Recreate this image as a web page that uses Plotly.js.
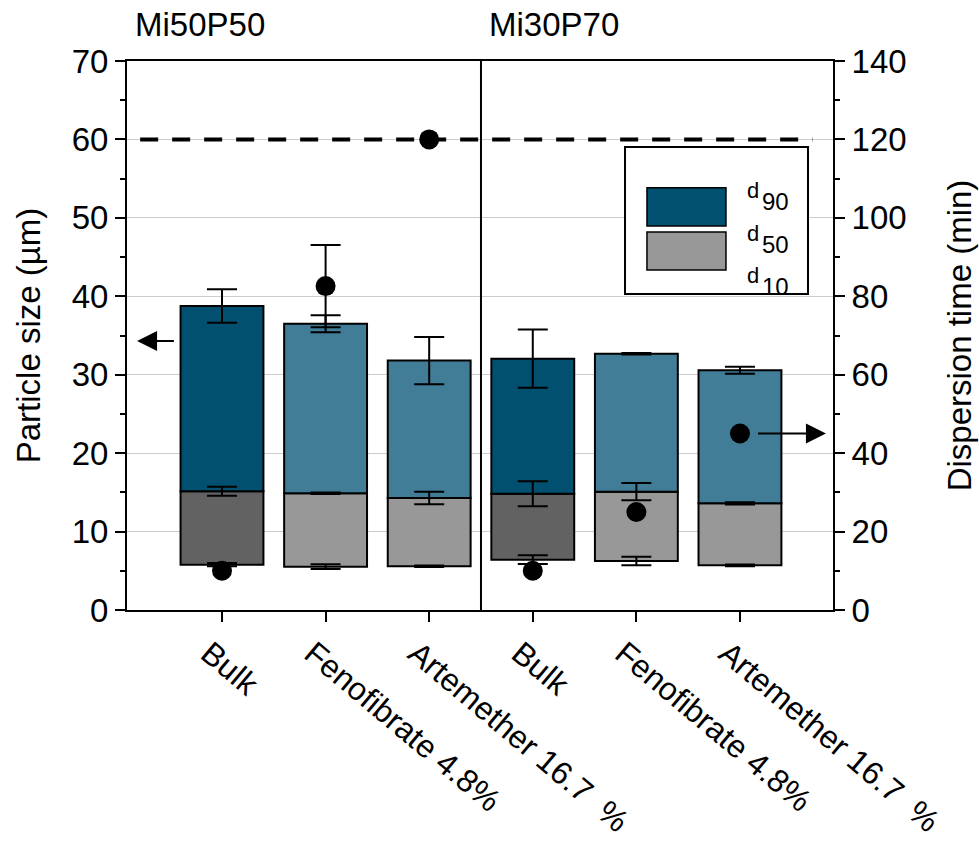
<!DOCTYPE html>
<html>
<head>
<meta charset="utf-8">
<script src="https://cdn.plot.ly/plotly-3.0.1.min.js"></script>
<style>html,body{margin:0;padding:0;background:#fff;}#chart{width:979px;height:845px;}</style>
</head>
<body>
<div id="chart"></div>
<script>
// ---- data ----
const xPos = [0, 1, 2, 3, 4, 5];
const tickLabels = ['Bulk', 'Fenofibrate 4.8%', 'Artemether 16.7\u00a0\u00a0%', 'Bulk', 'Fenofibrate 4.8%', 'Artemether 16.7\u00a0\u00a0%'];
const groups = ['Mi50P50', 'Mi30P70'];
const isBulk = [true, false, false, true, false, false];
const d10 = [5.78, 5.53, 5.57, 6.42, 6.25, 5.69];
const d10Err = [0.2, 0.3, 0.1, 0.55, 0.55, 0.1];
const d50 = [15.13, 14.88, 14.28, 14.83, 15.09, 13.6];
const d50Err = [0.57, 0.1, 0.8, 1.6, 1.1, 0.15];
const d90 = [38.76, 36.5, 31.8, 32.05, 32.68, 30.56];
const d90Err = [2.15, 1.07, 3.0, 3.7, 0.1, 0.45];
const dispTime = [10, 82.6, 120, 10, 25, 45];
const dispErr = [NaN, 10.5, NaN, NaN, NaN, NaN];
const maxTime = 120;
const legendNames = ['90', '50', '10'];

// ---- styles ----
const FONT = 'Liberation Sans, Arial, sans-serif';
const FS = 33;
const blueDark = '#02506F', blueLight = '#417D97';
const greyDark = '#626262', greyLight = '#989898';

const lowColors = isBulk.map(b => b ? greyDark : greyLight);
const highColors = isBulk.map(b => b ? blueDark : blueLight);

function errTrace(y, err) {
  return {
    type: 'scatter', mode: 'markers', x: xPos, y: y,
    marker: {size: 1, color: 'rgba(0,0,0,0)'},
    error_y: {type: 'data', array: err, visible: true, color: '#000', thickness: 2, width: 15},
    hoverinfo: 'skip', showlegend: false
  };
}

const traces = [
  {type: 'bar', x: xPos, base: d10, y: d50.map((v, i) => v - d10[i]), width: 0.8,
   marker: {color: lowColors, line: {color: '#000', width: 2}}, showlegend: false},
  {type: 'bar', x: xPos, base: d50, y: d90.map((v, i) => v - d50[i]), width: 0.8,
   marker: {color: highColors, line: {color: '#000', width: 2}}, showlegend: false},
  errTrace(d10, d10Err),
  errTrace(d50, d50Err),
  errTrace(d90, d90Err),
  {type: 'scatter', mode: 'markers', x: xPos, y: dispTime, yaxis: 'y2',
   marker: {size: 20, color: '#000'},
   error_y: {type: 'data', array: dispErr, visible: true, color: '#000', thickness: 2, width: 15},
   showlegend: false}
];

const shapes = [
  {type: 'line', xref: 'x', yref: 'y2', x0: -0.79, x1: 5.7, y0: maxTime, y1: maxTime,
   line: {color: '#000', width: 4, dash: '18px,14px'}},
  {type: 'line', xref: 'x', yref: 'y', x0: 2.5, x1: 2.5, y0: 0, y1: 70, line: {color: '#000', width: 2}},
  {type: 'rect', xref: 'paper', yref: 'paper', x0: 0.7054, x1: 0.9646, y0: 0.5756, y1: 0.8434,
   fillcolor: '#fff', line: {color: '#000', width: 2}},
  {type: 'rect', xref: 'paper', yref: 'paper', x0: 0.7365, x1: 0.8484, y0: 0.6995, y1: 0.7692,
   fillcolor: blueDark, line: {color: '#000', width: 1.5}},
  {type: 'rect', xref: 'paper', yref: 'paper', x0: 0.7365, x1: 0.8484, y0: 0.6193, y1: 0.6885,
   fillcolor: greyLight, line: {color: '#000', width: 1.5}}
];

const dFont = {family: FONT, size: 22, color: '#000'};
const subFont = {family: FONT, size: 24, color: '#000'};
const dY = [0.765, 0.6867, 0.6102];
const subY = [0.744, 0.6665, 0.59];
const annotations = [
  {xref: 'paper', yref: 'paper', x: 0.0085, y: 1.0656, xanchor: 'left', yanchor: 'middle',
   text: groups[0], showarrow: false, font: {family: FONT, size: FS, color: '#000'}},
  {xref: 'paper', yref: 'paper', x: 0.51, y: 1.0656, xanchor: 'left', yanchor: 'middle',
   text: groups[1], showarrow: false, font: {family: FONT, size: FS, color: '#000'}},
  {xref: 'x', yref: 'y', x: -0.82, y: 34.3, axref: 'x', ayref: 'y', ax: -0.45, ay: 34.3,
   text: '', showarrow: true, arrowhead: 2, arrowsize: 2, arrowwidth: 2, arrowcolor: '#000', standoff: 0, startstandoff: 0},
  {xref: 'x', yref: 'y2', x: 5.83, y: 45, axref: 'x', ayref: 'y2', ax: 5.16, ay: 45,
   text: '', showarrow: true, arrowhead: 2, arrowsize: 2, arrowwidth: 2, arrowcolor: '#000', standoff: 0, startstandoff: 0}
];
legendNames.forEach((n, i) => {
  annotations.push({xref: 'paper', yref: 'paper', x: 0.8796, y: dY[i], xanchor: 'left', yanchor: 'middle',
    text: 'd', showarrow: false, font: dFont, xshift: -3});
  annotations.push({xref: 'paper', yref: 'paper', x: 0.9008, y: subY[i], xanchor: 'left', yanchor: 'middle',
    text: n, showarrow: false, font: subFont, xshift: -3});
});

const tickFont = {family: FONT, size: FS, color: '#000'};
const layout = {
  width: 979, height: 845,
  margin: {l: 127, r: 146, t: 61, b: 235},
  paper_bgcolor: '#fff', plot_bgcolor: '#fff',
  font: {family: FONT, color: '#000', size: FS},
  barmode: 'overlay',
  showlegend: false,
  xaxis: {
    range: [-0.917, 5.898], tickvals: xPos, ticktext: tickLabels, tickangle: 40,
    ticklabelshift: -13, ticklabelstandoff: 0,
    ticks: 'outside', ticklen: 10, tickwidth: 2, tickcolor: '#000',
    showline: true, linewidth: 2, linecolor: '#000', mirror: true,
    showgrid: false, zeroline: false, tickfont: {family: FONT, size: 32, color: '#000'}
  },
  yaxis: {
    range: [0, 70], dtick: 10, tick0: 0,
    ticks: 'outside', ticklen: 10, tickwidth: 2, tickcolor: '#000',
    minor: {ticks: 'outside', ticklen: 5, tickwidth: 2, tickcolor: '#000', dtick: 5, showgrid: false},
    showline: true, linewidth: 2, linecolor: '#000',
    showgrid: true, gridcolor: '#cccccc', gridwidth: 1, zeroline: false,
    tickfont: tickFont,
    title: {text: 'Particle size (µm)', font: tickFont, standoff: 21}
  },
  yaxis2: {
    range: [0, 140], dtick: 20, tick0: 0, overlaying: 'y', side: 'right',
    ticks: 'outside', ticklen: 10, tickwidth: 2, tickcolor: '#000',
    minor: {ticks: 'outside', ticklen: 5, tickwidth: 2, tickcolor: '#000', dtick: 10, showgrid: false},
    showline: true, linewidth: 2, linecolor: '#000',
    showgrid: false, zeroline: false,
    tickfont: tickFont,
    title: {text: 'Dispersion time (min)', font: tickFont, standoff: 42}
  },
  shapes: shapes,
  annotations: annotations
};

Plotly.newPlot('chart', traces, layout, {displayModeBar: false, staticPlot: true});
</script>
</body>
</html>
